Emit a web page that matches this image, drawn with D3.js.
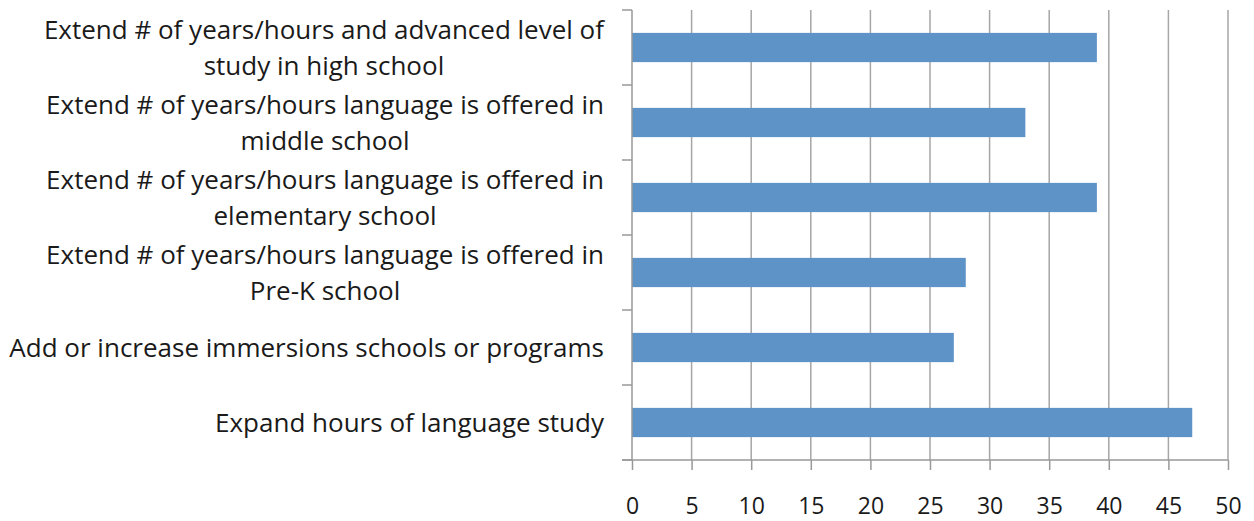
<!DOCTYPE html>
<html>
<head>
<meta charset="utf-8">
<script src="https://cdn.jsdelivr.net/npm/d3@7"></script>
<style>
  body { margin: 0; background: #fff; }
  text { font-family: "Open Sans", sans-serif; fill: #1a1a1a; }
</style>
</head>
<body>
<div id="chart"></div>
<script>
var width = 1254;
var height = 521;

// categories top to bottom, "\n" marks the line break
var categories = [
    "Extend # of years/hours and advanced level of\nstudy in high school",
    "Extend # of years/hours language is offered in\nmiddle school",
    "Extend # of years/hours language is offered in\nelementary school",
    "Extend # of years/hours language is offered in\nPre-K school",
    "Add or increase immersions schools or programs",
    "Expand hours of language study"
];
var values = [39, 33, 39, 28, 27, 47];
var xTicks = [0, 5, 10, 15, 20, 25, 30, 35, 40, 45, 50];

var plotLeft = 632, plotRight = 1228, plotTop = 10, plotBottom = 460;

let svg = d3.select("#chart").append("svg")
    .attr("width", width)
    .attr("height", height);

var x = d3.scaleLinear().domain([0, 50]).range([plotLeft, plotRight]);
var y = d3.scaleBand().domain(categories).range([plotTop, plotBottom])
    .paddingInner(0.61).paddingOuter(0.305);

// gridlines
svg.append("g").selectAll("line")
    .data(xTicks.slice(1))
    .join("line")
    .attr("x1", d => x(d)).attr("x2", d => x(d))
    .attr("y1", plotTop).attr("y2", plotBottom)
    .attr("stroke", "#a6a6a6").attr("stroke-width", 1.5);

// bars
svg.append("g").selectAll("rect")
    .data(values)
    .join("rect")
    .attr("x", x(0))
    .attr("y", (d, i) => y(categories[i]))
    .attr("width", d => x(d) - x(0))
    .attr("height", y.bandwidth())
    .attr("fill", "#5e93c8");

// bottom axis
var xAxis = d3.axisBottom(x).tickValues(xTicks).tickSize(10).tickSizeOuter(0);
var gx = svg.append("g").attr("transform", `translate(0,${plotBottom})`).call(xAxis);
gx.select(".domain").remove();
gx.append("line").attr("x1", plotLeft - 10).attr("x2", plotRight).attr("y1", 0).attr("y2", 0)
    .attr("stroke", "#999").attr("stroke-width", 1.5);
gx.selectAll(".tick line").attr("stroke", "#999").attr("stroke-width", 1.5);
gx.selectAll(".tick text")
    .attr("y", 54).attr("dy", null)
    .attr("font-size", 23).attr("font-family", "Open Sans, sans-serif")
    .attr("fill", "#1a1a1a");

// left axis line and band ticks
var band = y.step();
var leftTicks = d3.range(categories.length + 1).map(i => plotTop + i * band);
svg.append("line").attr("x1", plotLeft).attr("x2", plotLeft).attr("y1", plotTop).attr("y2", plotBottom)
    .attr("stroke", "#999").attr("stroke-width", 1.5);
svg.append("g").selectAll("line")
    .data(leftTicks)
    .join("line")
    .attr("x1", plotLeft - 10).attr("x2", plotLeft)
    .attr("y1", d => d).attr("y2", d => d)
    .attr("stroke", "#999").attr("stroke-width", 1.5);

// category labels, lines centered within a right-aligned block
var labelRight = 604;
var lineH = 36;
categories.forEach(function (c) {
    var lines = c.split("\n");
    var cy = y(c) + y.bandwidth() / 2;
    var g = svg.append("g");
    var t = g.selectAll("text")
        .data(lines)
        .join("text")
        .attr("font-size", 26)
        .attr("text-anchor", "middle")
        .attr("dy", "0.35em")
        .attr("y", (d, i) => cy + (i - (lines.length - 1) / 2) * lineH)
        .text(d => d);
    var maxW = d3.max(t.nodes(), n => n.getComputedTextLength());
    t.attr("x", labelRight - maxW / 2);
});
</script>
</body>
</html>
